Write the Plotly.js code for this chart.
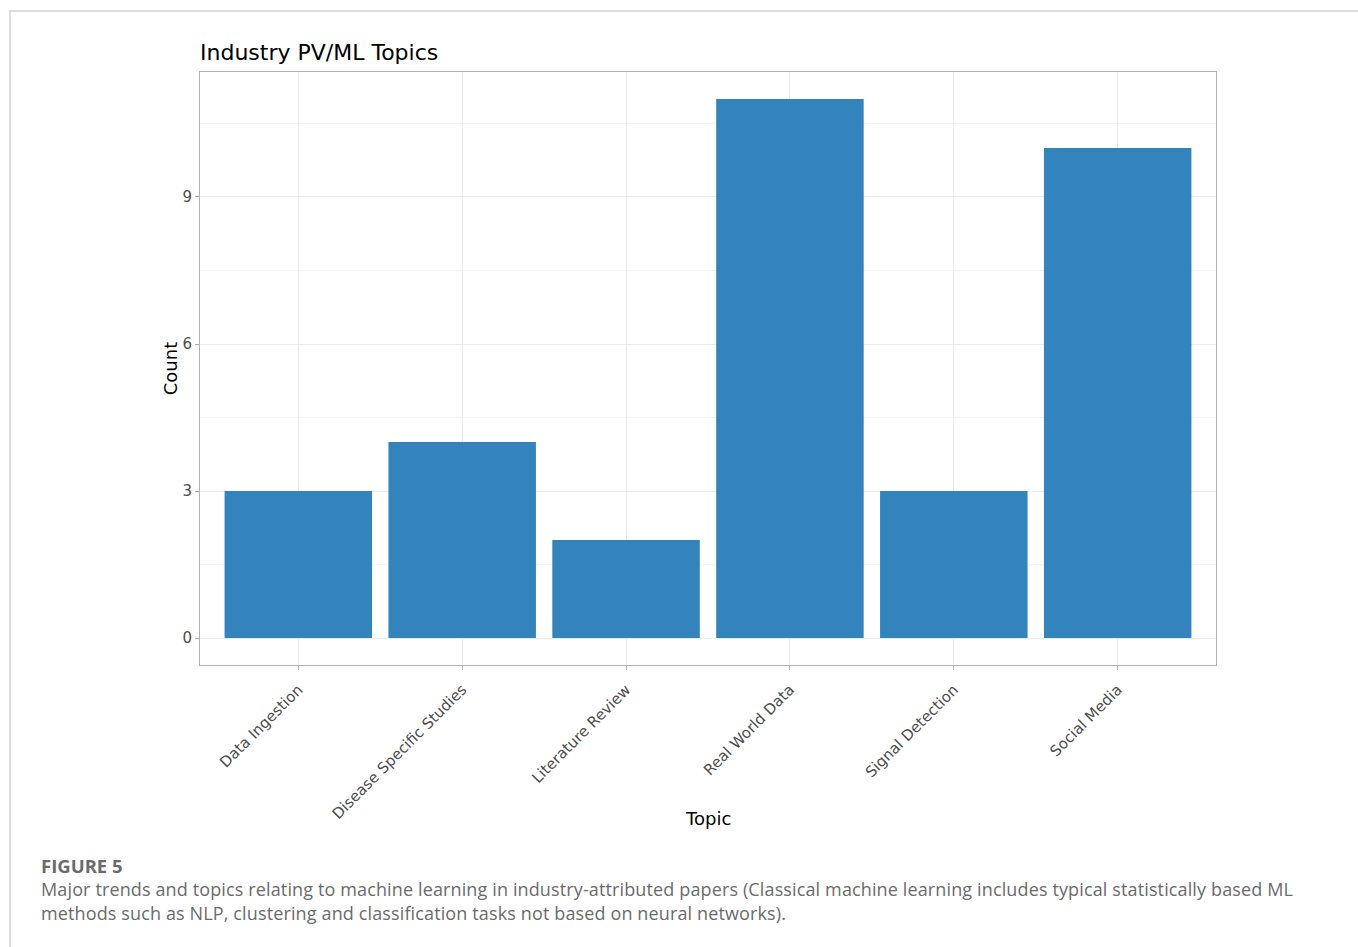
<!DOCTYPE html>
<html>
<head>
<meta charset="utf-8">
<script src="https://cdn.plot.ly/plotly-3.0.1.min.js"></script>
<style>
  html, body { margin: 0; padding: 0; background: #fff; }
  #wrap { position: relative; width: 1358px; height: 947px; overflow: hidden; }
  #chart { position: absolute; left: 0; top: 0; width: 1358px; height: 947px; }
  #frame { position: absolute; left: 9px; top: 10px; width: 1400px; height: 1000px;
           border-top: 2px solid #dcdcdc; border-left: 2px solid #dcdcdc; pointer-events: none; }
  #figlabel { position: absolute; left: 41px; top: 853px; font-family: "Open Sans", "Noto Sans", sans-serif;
              font-weight: bold; font-size: 18.5px; color: #6b6b6b; }
  #caption { position: absolute; left: 41px; top: 877px; width: 1310px; font-family: "Open Sans", "Noto Sans", sans-serif;
             font-size: 18px; line-height: 24px; letter-spacing: 0.13px; color: #6b6b6b; white-space: nowrap; }
</style>
</head>
<body>
<div id="wrap">
  <div id="chart"></div>
  <div id="frame"></div>
  <div id="figlabel">FIGURE 5</div>
  <div id="caption">Major trends and topics relating to machine learning in industry-attributed papers (Classical machine learning includes typical statistically based ML<br>methods such as NLP, clustering and classification tasks not based on neural networks).</div>
</div>
<script>
const topics = ["Data Ingestion", "Disease Specific Studies", "Literature Review", "Real World Data", "Signal Detection", "Social Media"];
const counts = [3, 4, 2, 11, 3, 10];
const yTickVals = [0, 3, 6, 9];
const yTickText = ["0", "3", "6", "9"];
const yMinorVals = [1.5, 4.5, 7.5, 10.5];

const minorShapes = yMinorVals.map(v => ({
  type: "line", xref: "paper", yref: "y", x0: 0, x1: 1, y0: v, y1: v,
  line: { color: "#f2f2f2", width: 1 }, layer: "below"
}));

const trace = {
  type: "bar", x: topics, y: counts, width: 0.9,
  marker: { color: "#3383bc", line: { width: 0 } },
  hoverinfo: "x+y"
};

const layout = {
  width: 1358, height: 947,
  margin: { l: 200, r: 142, t: 72, b: 282 },
  paper_bgcolor: "#ffffff", plot_bgcolor: "#ffffff",
  font: { family: "DejaVu Sans", color: "#4d4d4d" },
  title: { text: "Industry PV/ML Topics", x: 200/1358, xanchor: "left", xref: "container",
           y: 1 - 60/947, yanchor: "bottom", yref: "container",
           font: { family: "DejaVu Sans", size: 22, color: "#000000" } },
  showlegend: false,
  bargap: 0.1,
  xaxis: {
    type: "category", range: [-0.6, 5.6],
    tickangle: -45, ticks: "outside", ticklen: 4, tickcolor: "#b3b3b3", tickwidth: 1,
    ticklabelstandoff: 5,
    tickfont: { family: "DejaVu Sans", size: 15, color: "#4d4d4d" },
    showgrid: true, gridcolor: "#ebebeb", gridwidth: 1,
    showline: true, linecolor: "#b3b3b3", linewidth: 1, mirror: true,
    zeroline: false, automargin: false,
    title: { text: "" }
  },
  yaxis: {
    range: [-0.55, 11.55], tickvals: yTickVals, ticktext: yTickText,
    ticks: "outside", ticklen: 4, tickcolor: "#b3b3b3", tickwidth: 1,
    tickfont: { family: "DejaVu Sans", size: 15, color: "#4d4d4d" },
    showgrid: true, gridcolor: "#ebebeb", gridwidth: 1,
    showline: true, linecolor: "#b3b3b3", linewidth: 1, mirror: true,
    zeroline: false, automargin: false,
    title: { text: "Count", standoff: 0, font: { family: "DejaVu Sans", size: 18, color: "#000000" } }
  },
  annotations: [{
    text: "Topic", xref: "paper", yref: "paper", x: 0.5, y: -(819 - 665) / 593,
    xanchor: "center", yanchor: "middle", showarrow: false,
    font: { family: "DejaVu Sans", size: 18, color: "#000000" }
  }],
  shapes: minorShapes
};

Plotly.newPlot("chart", [trace], layout, { displayModeBar: false, staticPlot: true });
</script>
</body>
</html>
